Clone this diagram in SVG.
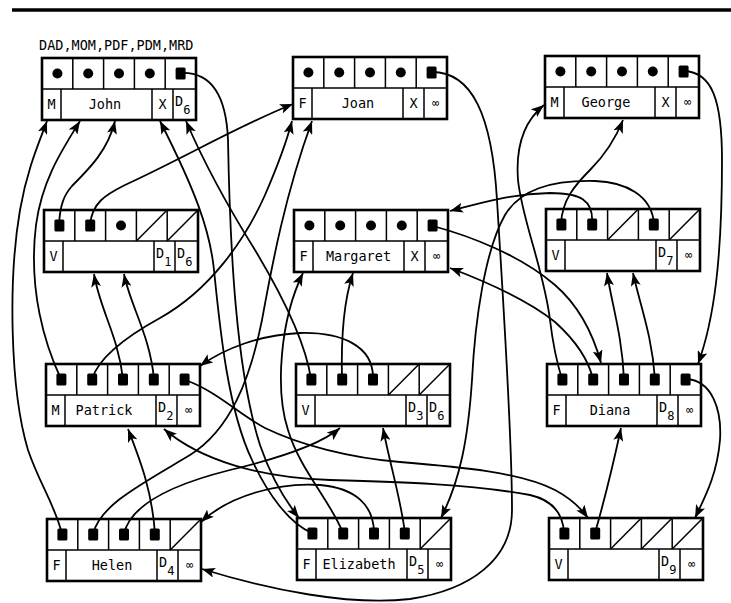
<svg xmlns="http://www.w3.org/2000/svg" xmlns:xlink="http://www.w3.org/1999/xlink" width="731" height="603" viewBox="0 0 731 603">
<style>
.t{font-family:"DejaVu Sans Mono","Liberation Mono",monospace;font-size:13.5px;fill:#000}
.m{text-anchor:middle}
.s{font-size:12px}
.inf{font-size:12px;text-anchor:middle}
.c{fill:none;stroke:#000;stroke-width:1.8;marker-end:url(#ah)}
.ln{stroke:#000;stroke-width:1.5;fill:none}
</style>
<defs>
<marker id="ah" markerUnits="userSpaceOnUse" markerWidth="14" markerHeight="10" refX="13" refY="5" orient="auto">
<path d="M0,0 L13,5 L0,10 L3,5 z" fill="#000"/>
</marker>
<g id="frame">
<rect x="0" y="0" width="154" height="62" fill="#fff" stroke="#000" stroke-width="2.6"/>
<path class="ln" d="M0,31H154M30.8,0V31M61.6,0V31M92.4,0V31M123.2,0V31M19,31V62M110,31V62M131,31V62"/>
</g>
<circle id="dot" cx="15.4" cy="15.5" r="5" fill="#000"/>
<rect id="sq" x="10.4" y="9.5" width="10" height="12" rx="1.5" fill="#000"/>
<path id="sl" d="M0,31 L30.8,0" stroke="#000" stroke-width="1.5"/>
</defs>
<rect width="731" height="603" fill="#fff"/>
<line x1="12" y1="10" x2="731" y2="10" stroke="#000" stroke-width="3.5"/>
<text class="t" x="39" y="50">DAD,MOM,PDF,PDM,MRD</text>

<g id="john" transform="translate(42,58)">
<use href="#frame"/>
<use href="#dot"/><use href="#dot" x="30.8"/><use href="#dot" x="61.6"/><use href="#dot" x="92.4"/><use href="#sq" x="123.2"/>
<text class="t m" x="9.5" y="51">M</text><text class="t m" x="63" y="51">John</text><text class="t m" x="120.5" y="51">X</text>
<text class="t" x="133" y="48">D<tspan class="s" dy="8">6</tspan></text>
</g>
<g id="joan" transform="translate(293,57)">
<use href="#frame"/>
<use href="#dot"/><use href="#dot" x="30.8"/><use href="#dot" x="61.6"/><use href="#dot" x="92.4"/><use href="#sq" x="123.2"/>
<text class="t m" x="9.5" y="51">F</text><text class="t m" x="65" y="51">Joan</text><text class="t m" x="120.5" y="51">X</text>
<text class="t inf" x="142.5" y="50">∞</text>
</g>
<g id="george" transform="translate(545,56)">
<use href="#frame"/>
<use href="#dot"/><use href="#dot" x="30.8"/><use href="#dot" x="61.6"/><use href="#dot" x="92.4"/><use href="#sq" x="123.2"/>
<text class="t m" x="9.5" y="51">M</text><text class="t m" x="61" y="51">George</text><text class="t m" x="120.5" y="51">X</text>
<text class="t inf" x="142.5" y="50">∞</text>
</g>
<g id="v1" transform="translate(44,210)">
<use href="#frame"/>
<use href="#sq"/><use href="#sq" x="30.8"/><use href="#dot" x="61.6"/><use href="#sl" x="92.4"/><use href="#sl" x="123.2"/>
<text class="t m" x="9.5" y="51">V</text>
<text class="t" x="112" y="48">D<tspan class="s" dy="8">1</tspan></text>
<text class="t" x="133" y="48">D<tspan class="s" dy="8">6</tspan></text>
</g>
<g id="margaret" transform="translate(294,210)">
<use href="#frame"/>
<use href="#dot"/><use href="#dot" x="30.8"/><use href="#dot" x="61.6"/><use href="#dot" x="92.4"/><use href="#sq" x="123.2"/>
<text class="t m" x="9.5" y="51">F</text><text class="t m" x="64.5" y="51">Margaret</text><text class="t m" x="120.5" y="51">X</text>
<text class="t inf" x="142.5" y="50">∞</text>
</g>
<g id="v3" transform="translate(546,209)">
<use href="#frame"/>
<use href="#sq"/><use href="#sq" x="30.8"/><use href="#sl" x="61.6"/><use href="#sq" x="92.4"/><use href="#sl" x="123.2"/>
<text class="t m" x="9.5" y="51">V</text>
<text class="t" x="112" y="48">D<tspan class="s" dy="8">7</tspan></text>
<text class="t inf" x="142.5" y="50">∞</text>
</g>
<g id="patrick" transform="translate(46,364)">
<use href="#frame"/>
<use href="#sq"/><use href="#sq" x="30.8"/><use href="#sq" x="61.6"/><use href="#sq" x="92.4"/><use href="#sq" x="123.2"/>
<text class="t m" x="9.5" y="51">M</text><text class="t m" x="58" y="51">Patrick</text>
<text class="t" x="112" y="48">D<tspan class="s" dy="8">2</tspan></text>
<text class="t inf" x="142.5" y="50">∞</text>
</g>
<g id="v2" transform="translate(296,364)">
<use href="#frame"/>
<use href="#sq"/><use href="#sq" x="30.8"/><use href="#sq" x="61.6"/><use href="#sl" x="92.4"/><use href="#sl" x="123.2"/>
<text class="t m" x="9.5" y="51">V</text>
<text class="t" x="112" y="48">D<tspan class="s" dy="8">3</tspan></text>
<text class="t" x="133" y="48">D<tspan class="s" dy="8">6</tspan></text>
</g>
<g id="diana" transform="translate(547,364)">
<use href="#frame"/>
<use href="#sq"/><use href="#sq" x="30.8"/><use href="#sq" x="61.6"/><use href="#sq" x="92.4"/><use href="#sq" x="123.2"/>
<text class="t m" x="9.5" y="51">F</text><text class="t m" x="63" y="51">Diana</text>
<text class="t" x="112" y="48">D<tspan class="s" dy="8">8</tspan></text>
<text class="t inf" x="142.5" y="50">∞</text>
</g>
<g id="helen" transform="translate(47,519)">
<use href="#frame"/>
<use href="#sq"/><use href="#sq" x="30.8"/><use href="#sq" x="61.6"/><use href="#sq" x="92.4"/><use href="#sl" x="123.2"/>
<text class="t m" x="9.5" y="51">F</text><text class="t m" x="65" y="51">Helen</text>
<text class="t" x="112" y="48">D<tspan class="s" dy="8">4</tspan></text>
<text class="t inf" x="142.5" y="50">∞</text>
</g>
<g id="elizabeth" transform="translate(297,518)">
<use href="#frame"/>
<use href="#sq"/><use href="#sq" x="30.8"/><use href="#sq" x="61.6"/><use href="#sq" x="92.4"/><use href="#sl" x="123.2"/>
<text class="t m" x="9.5" y="51">F</text><text class="t m" x="62" y="51">Elizabeth</text>
<text class="t" x="112" y="48">D<tspan class="s" dy="8">5</tspan></text>
<text class="t inf" x="142.5" y="50">∞</text>
</g>
<g id="v4" transform="translate(549,518)">
<use href="#frame"/>
<use href="#sq"/><use href="#sq" x="30.8"/><use href="#sl" x="61.6"/><use href="#sl" x="92.4"/><use href="#sl" x="123.2"/>
<text class="t m" x="9.5" y="51">V</text>
<text class="t" x="112" y="48">D<tspan class="s" dy="8">9</tspan></text>
<text class="t inf" x="142.5" y="50">∞</text>
</g>

<g id="connectors">
<!-- John MRD -> Elizabeth -->
<path class="c" d="M181,73 C208,72 226,90 228,140 C230,250 236,370 260,445 C272,480 287,503 299,518"/>
<!-- Joan MRD -> Helen -->
<path class="c" d="M432,72 C472,72 492,115 497,200 C503,300 512,430 512,510 C512,560 470,590 410,599 C350,606 270,590 202,569"/>
<!-- George MRD -> Diana -->
<path class="c" d="M684,71 C712,72 722,100 722,160 C722,260 714,320 698,364"/>
<!-- Margaret MRD -> Diana -->
<path class="c" d="M433,226 C470,236 520,255 555,285 C578,305 592,330 601,363"/>
<!-- Patrick -->
<path class="c" d="M61,379 C45,345 28,290 36,225 C42,180 62,150 80,121"/>
<path class="c" d="M92,379 C98,360 120,340 160,318 C210,290 245,240 265,195 C278,165 287,140 292,121"/>
<path class="c" d="M123,379 C118,335 100,310 94,274"/>
<path class="c" d="M154,379 C150,335 130,305 124,274"/>
<path class="c" d="M185,380 C215,390 240,415 265,428 C300,445 350,458 400,462 C460,467 520,472 555,490 C570,498 580,507 588,518"/>
<!-- V1 -->
<path class="c" d="M59,225 C60,205 64,195 72,186 C90,168 108,150 115,121"/>
<path class="c" d="M90,225 C92,203 105,195 125,185 C180,160 240,125 293,104"/>
<!-- V2 -->
<path class="c" d="M311,379 C306,345 285,300 255,250 C230,210 205,165 186,121"/>
<path class="c" d="M342,379 C341,340 344,300 353,273"/>
<path class="c" d="M373,379 C374,345 340,332 300,333 C260,335 225,348 200,366"/>
<!-- V3 -->
<path class="c" d="M561,224 C562,200 575,185 590,170 C605,155 615,140 623,120"/>
<path class="c" d="M592,224 C594,200 580,193 550,193 C510,194 480,203 450,211"/>
<path class="c" d="M654,224 C652,195 625,182 595,181 C550,180 520,190 505,215 C485,250 475,320 472,380 C468,440 460,480 441,518"/>
<!-- Diana -->
<path class="c" d="M562,379 C556,360 553,345 550,320 C544,270 522,220 518,180 C515,140 528,118 544,105"/>
<path class="c" d="M593,379 C588,358 575,340 555,322 C530,302 495,285 450,268"/>
<path class="c" d="M624,379 C622,335 612,305 607,273"/>
<path class="c" d="M655,379 C652,335 640,305 633,273"/>
<path class="c" d="M686,379 C712,380 722,410 720,440 C717,475 705,497 695,518"/>
<!-- V4 -->
<path class="c" d="M564,533 C563,512 552,500 530,495 C470,484 400,482 330,480 C260,478 200,460 164,429"/>
<path class="c" d="M595,533 C603,505 612,470 621,428"/>
<!-- Helen -->
<path class="c" d="M62,534 C55,505 40,485 28,450 C10,390 8,280 20,210 C27,170 38,145 47,121"/>
<path class="c" d="M93,534 C100,505 140,485 190,455 C230,430 250,380 262,320 C272,265 285,195 312,121"/>
<path class="c" d="M124,534 C130,505 170,485 230,470 C280,458 320,445 340,428"/>
<path class="c" d="M155,534 C152,490 140,460 128,429"/>
<!-- Elizabeth -->
<path class="c" d="M312,533 C290,524 268,495 252,460 C228,410 220,330 214,270 C210,230 195,190 160,121"/>
<path class="c" d="M343,533 C330,500 300,470 288,430 C275,390 280,320 303,273"/>
<path class="c" d="M374,533 C374,505 355,488 320,485 C280,482 230,495 201,522"/>
<path class="c" d="M405,533 C400,495 390,465 383,428"/>
</g>
</svg>
